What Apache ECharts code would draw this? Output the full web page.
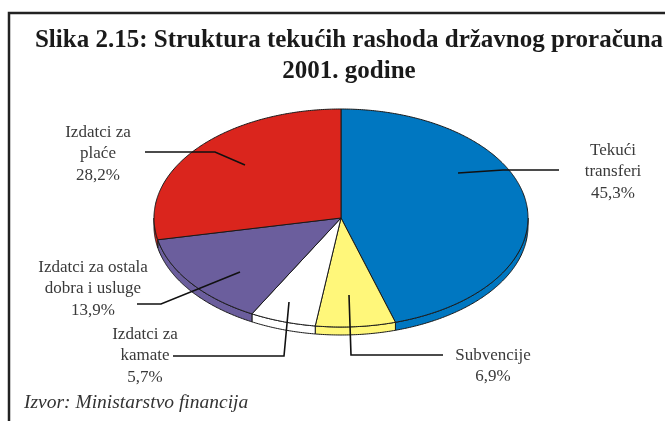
<!DOCTYPE html>
<html>
<head>
<meta charset="utf-8">
<script src="https://cdn.jsdelivr.net/npm/echarts@6/dist/echarts.min.js"></script>
<style>
  html, body { margin: 0; padding: 0; background: #fff; }
  #chart { width: 665px; height: 421px; }
</style>
</head>
<body>
<div id="chart"></div>
<script>
// slices, clockwise from 12 o'clock
var names = ['Tekući\ntransferi', 'Subvencije', 'Izdatci za\nkamate', 'Izdatci za ostala\ndobra i usluge', 'Izdatci za\nplaće'];
var values = [45.3, 6.9, 5.7, 13.9, 28.2];
var colors = ['#0077c1', '#fff77a', '#ffffff', '#6b5e9d', '#da251d'];

// ellipse layout (tilted pie)
var cx = 341, cy = 218, rx = 187, ry = 109, depth = 8;
var total = values.reduce(function (s, v) { return s + v; }, 0);
var starts = [];
(function () {
    var acc = 0;
    values.forEach(function (v) { starts.push(acc / total * Math.PI * 2); acc += v; });
})();

// label placement: text centre + leader line
var labelLayout = [
    { x: 613, y: 172, line: [[458, 173], [503, 170], [559, 170]] },
    { x: 493, y: 366, line: [[349, 295], [351, 355], [443, 355]] },
    { x: 145, y: 356, line: [[289, 302], [284, 356], [173, 356]] },
    { x: 93, y: 289, line: [[240, 272], [161, 304], [137, 304]] },
    { x: 98, y: 154, line: [[245, 165], [215, 152], [145, 152]] }
];

function pt(t, dy) {
    return [cx + rx * Math.sin(t), cy - ry * Math.cos(t) + (dy || 0)];
}
function arc(a, b, dy) {
    var n = Math.max(2, Math.ceil((b - a) / 0.01));
    var out = [];
    for (var i = 0; i <= n; i++) out.push(pt(a + (b - a) * i / n, dy));
    return out;
}
function fmt(v) {
    return v.toFixed(1).replace('.', ',') + '%';
}

function renderSide(params, api) {
    var i = params.dataIndex;
    var a = starts[i], b = a + values[i] / total * Math.PI * 2;
    var lo = Math.max(a, Math.PI / 2), hi = Math.min(b, Math.PI * 1.5);
    if (hi <= lo) return null;
    var top = arc(lo, hi, 0);
    var bottom = arc(lo, hi, depth).reverse();
    return {
        type: 'polygon',
        shape: { points: top.concat(bottom) },
        style: { fill: colors[i], stroke: '#1a1a1a', lineWidth: 1 }
    };
}

function renderTop(params, api) {
    var i = params.dataIndex;
    var a = starts[i], b = a + values[i] / total * Math.PI * 2;
    return {
        type: 'polygon',
        shape: { points: [[cx, cy]].concat(arc(a, b, 0)) },
        style: { fill: colors[i], stroke: '#1a1a1a', lineWidth: 1 }
    };
}

var graphics = [
    {
        type: 'rect',
        shape: { x: 9, y: 13, width: 700, height: 450 },
        style: { fill: 'none', stroke: '#222', lineWidth: 2.5 },
        silent: true
    },
    {
        type: 'text',
        left: 24, top: 393,
        style: {
            text: 'Izvor: Ministarstvo financija',
            font: 'italic 19.5px "Liberation Serif", serif',
            fill: '#333'
        }
    }
];
labelLayout.forEach(function (l, i) {
    graphics.push({
        type: 'polyline',
        shape: { points: l.line },
        style: { stroke: '#111', lineWidth: 1.6, fill: 'none' },
        z: 10
    });
    graphics.push({
        type: 'text',
        x: l.x, y: l.y,
        style: {
            text: names[i] + '\n' + fmt(values[i]),
            font: '17px "Liberation Serif", serif',
            fill: '#3a3a3a',
            textAlign: 'center',
            textVerticalAlign: 'middle',
            lineHeight: 21.5
        },
        z: 10
    });
});

var option = {
    backgroundColor: '#fff',
    animation: false,
    title: {
        text: 'Slika 2.15: Struktura tekućih rashoda državnog proračuna\n2001. godine',
        left: 344,
        top: 20,
        textAlign: 'center',
        textStyle: {
            fontFamily: '"Liberation Serif", serif',
            fontWeight: 'bold',
            fontSize: 25,
            lineHeight: 31,
            color: '#1a1a1a'
        }
    },
    graphic: graphics,
    series: [
        {
            type: 'custom',
            coordinateSystem: 'none',
            renderItem: renderSide,
            data: values,
            z: 1
        },
        {
            type: 'custom',
            coordinateSystem: 'none',
            renderItem: renderTop,
            data: values,
            z: 2
        }
    ]
};

var chart = echarts.init(document.getElementById('chart'));
chart.setOption(option);
</script>
</body>
</html>
